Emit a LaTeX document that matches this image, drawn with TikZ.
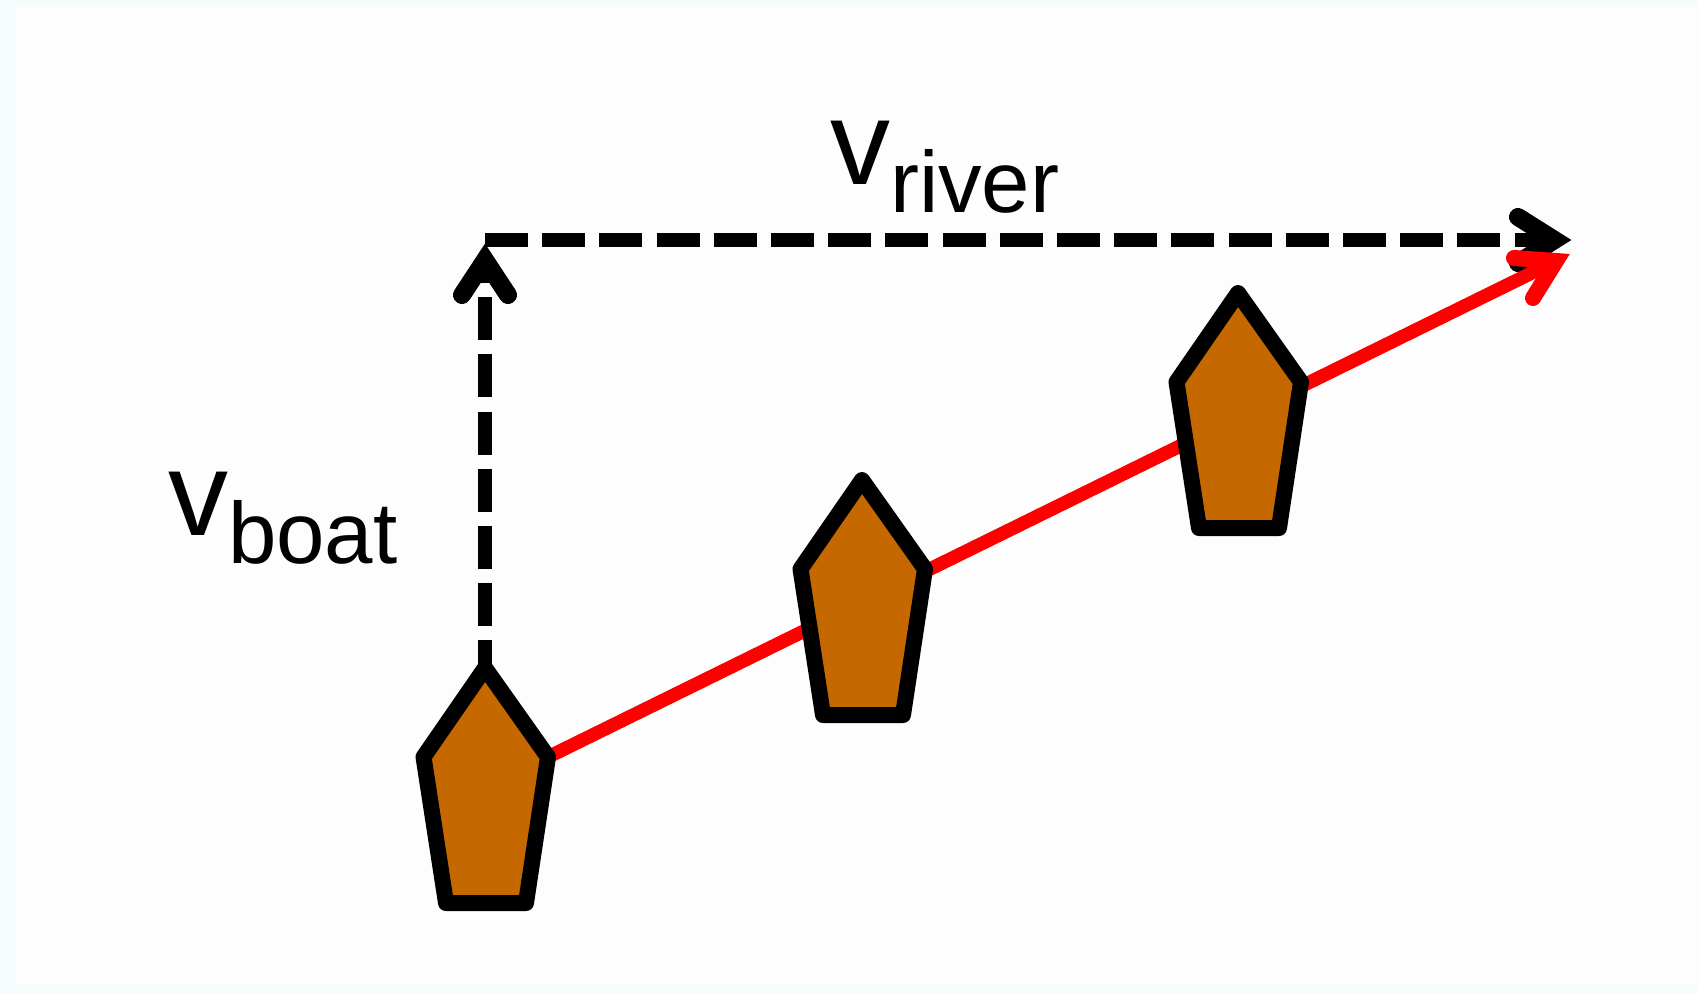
\documentclass[tikz,border=0pt]{standalone}
\usepackage{fontspec}
\setmainfont{Liberation Sans}
\usetikzlibrary{arrows.meta}
\definecolor{boatfill}{RGB}{198,104,0}
\definecolor{edgetint}{RGB}{244,252,252}
\definecolor{paper}{RGB}{253,253,253}
\newcommand{\vlabel}[1]{{\fontsize{120}{120}\selectfont v\raisebox{-28pt}{\fontsize{87}{87}\selectfont #1}}}
\tikzset{
  x=1pt,y=-1pt,
  boat/.style={draw=black,fill=boatfill,line width=16pt,line join=round},
  velo/.style={line width=14pt,draw=black,dash pattern=on 43pt off 14.2pt},
  head/.style={line width=18pt,line cap=round,line join=miter},
  lab/.style={inner sep=0pt,anchor=base west}
}
\newcommand{\boatat}[2]{%
  \begin{scope}[shift={(#2)}]
    \draw[boat] (485,668) -- (548,757) -- (526,903) -- (446,903) -- (423.5,757) -- cycle;
  \end{scope}}
\begin{document}
\begin{tikzpicture}
\useasboundingbox (0,0) rectangle (1698,993);
\fill[edgetint] (0,0) rectangle (1698,993);
\fill[paper] (16,6) rectangle (1698,985);
\coordinate (corner) at (485,240);
\coordinate (base) at (485,254);
\coordinate (tipb) at (1554.5,240);
\coordinate (tipr) at (1556,261);
\coordinate (start) at (485,668);
\coordinate (redstart) at (548,757);
% velocity components
\draw[velo,dash phase=14pt] (base) -- (start);
\draw[velo] (corner) -- (tipb);
\draw[head] (462,295) -- (485,260) -- (508,295);
\draw[head] (1518,217) -- (tipb) -- (1518,263);
% resultant
\draw[red,line width=13.5pt] (redstart) -- (tipr);
\draw[red,head,line width=16pt] (1514,258) -- (tipr) -- (1533,298);
% boats
\boatat{one}{0,0}
\boatat{two}{377,-188}
\boatat{three}{753,-375}
% labels
\node[lab] (vriver) at (830,184) {\vlabel{river}};
\node[lab] (vboat) at (168,535) {\vlabel{boat}};
\end{tikzpicture}
\end{document}
